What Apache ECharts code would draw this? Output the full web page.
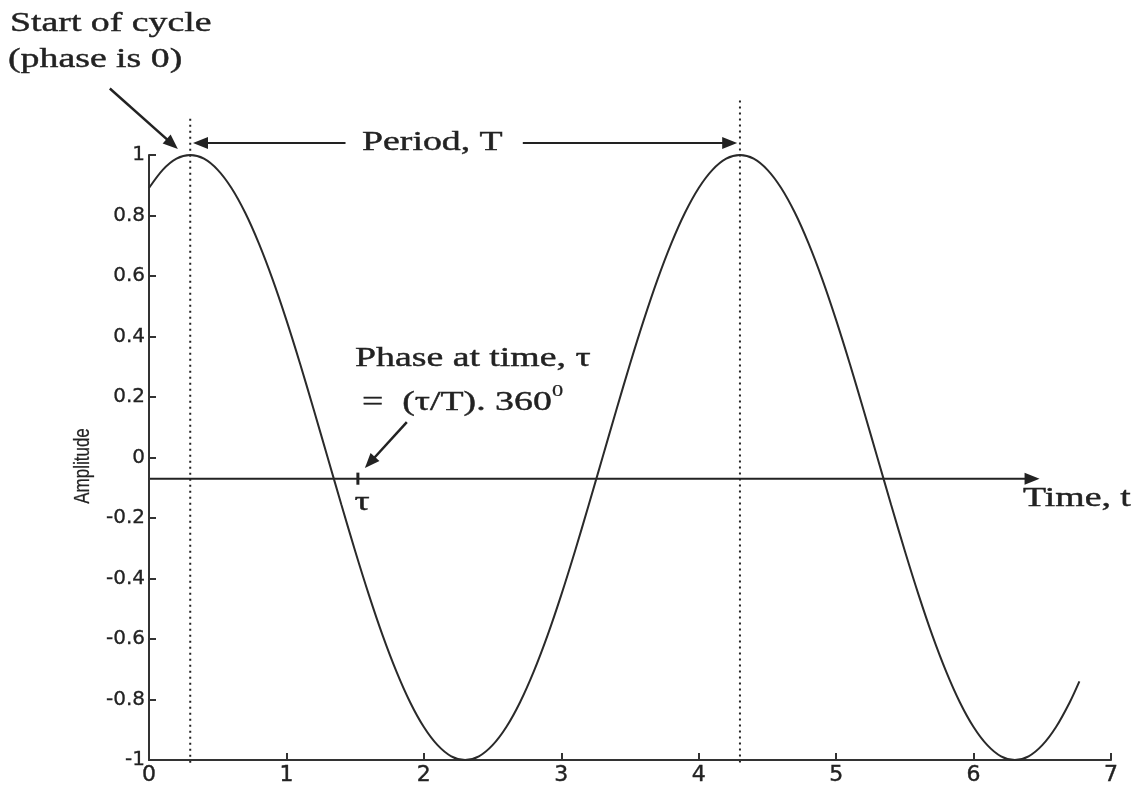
<!DOCTYPE html>
<html>
<head>
<meta charset="utf-8">
<script src="https://cdn.jsdelivr.net/npm/echarts@6/dist/echarts.min.js"></script>
<style>
html,body{margin:0;padding:0;background:#fff}
#chart{width:1138px;height:786px}
</style>
</head>
<body>
<div id="chart"></div>
<script>
// time samples (s) and amplitude
var timeValues = [0,0.1,0.2,0.3,0.4,0.5,0.6,0.7,0.8,0.9,
	1.0,1.1,1.2,1.3,1.4,1.5,1.6,1.7,1.8,1.9,
	2.0,2.1,2.2,2.3,2.4,2.5,2.6,2.7,2.8,2.9,
	3.0,3.1,3.2,3.3,3.4,3.5,3.6,3.7,3.8,3.9,
	4.0,4.1,4.2,4.3,4.4,4.5,4.6,4.7,4.8,4.9,
	5.0,5.1,5.2,5.3,5.4,5.5,5.6,5.7,5.8,5.9,
	6.0,6.1,6.2,6.3,6.4,6.5,6.6,6.7,6.77];
var amplitudeValues = [0.891,0.951,0.988,1,0.988,0.951,0.891,0.809,0.707,0.588,
	0.454,0.309,0.156,0,-0.156,-0.309,-0.454,-0.588,-0.707,-0.809,
	-0.891,-0.951,-0.988,-1,-0.988,-0.951,-0.891,-0.809,-0.707,-0.588,
	-0.454,-0.309,-0.156,0,0.156,0.309,0.454,0.588,0.707,0.809,
	0.891,0.951,0.988,1,0.988,0.951,0.891,0.809,0.707,0.588,
	0.454,0.309,0.156,0,-0.156,-0.309,-0.454,-0.588,-0.707,-0.809,
	-0.891,-0.951,-0.988,-1,-0.988,-0.951,-0.891,-0.809,-0.74];
var periodMarks = [0.3, 4.3];   // dotted lines, start of each cycle
var timeAxisLevel = -0.07;      // level of the "Time, t" arrow
var tauTime = 1.52;             // the tau tick

var ink = '#222';
var serif = 'Liberation Serif';

var curve = [];
for (var i = 0; i < timeValues.length; i++) {
	curve.push([timeValues[i], amplitudeValues[i]]);
}

var chart = echarts.init(document.getElementById('chart'));
chart.setOption({
	animation: false,
	backgroundColor: '#fff',
	grid: {left: 149, right: 27, top: 155, bottom: 26, containLabel: false, outerBoundsMode: 'none'},
	xAxis: {
		type: 'value', min: 0, max: 7, interval: 1,
		splitLine: {show: false},
		axisLine: {show: true, onZero: false, lineStyle: {color: '#333', width: 2}},
		axisTick: {show: true, inside: true, length: 7, lineStyle: {color: '#333', width: 2}},
		axisLabel: {fontFamily: 'DejaVu Sans', fontSize: 22, color: ink, margin: 4,
			textBorderColor: ink, textBorderWidth: 0.4}
	},
	yAxis: {
		type: 'value', min: -1, max: 1, interval: 0.2,
		splitLine: {show: false},
		axisLine: {show: true, onZero: false, lineStyle: {color: '#333', width: 2}},
		axisTick: {show: true, inside: true, length: 7, lineStyle: {color: '#333', width: 2}},
		axisLabel: {
			fontFamily: 'DejaVu Sans', fontSize: 20, color: ink, margin: 4,
			textBorderColor: ink, textBorderWidth: 0.3,
			formatter: function (v) { return String(Math.round(v * 10) / 10); }
		}
	},
	series: [{
		type: 'line',
		data: curve,
		smooth: 0.3,
		symbol: 'none',
		lineStyle: {color: '#2a2a2a', width: 2}
	}]
});

function px(x, y) { return chart.convertToPixel({gridIndex: 0}, [x, y]); }

// straight line, optionally ending in a filled arrowhead
function arrow(from, to, head, width, dash) {
	var a = px(from[0], from[1]), b = px(to[0], to[1]);
	var out = [];
	var dx = b[0] - a[0], dy = b[1] - a[1];
	var len = Math.sqrt(dx * dx + dy * dy);
	var ux = dx / len, uy = dy / len;
	var end = b;
	if (head) {
		var L = 15, W = 6;
		var bx = b[0] - ux * L, by = b[1] - uy * L;
		end = [bx + ux * 2, by + uy * 2];
		out.push({type: 'polygon', silent: true,
			shape: {points: [[b[0], b[1]], [bx - uy * W, by + ux * W], [bx + uy * W, by - ux * W]]},
			style: {fill: ink}});
	}
	out.push({type: 'line', silent: true,
		shape: {x1: a[0], y1: a[1], x2: end[0], y2: end[1]},
		style: {stroke: ink, lineWidth: width || 2, lineDash: dash || null}});
	return out;
}

function label(text, x, y, size, opts) {
	opts = opts || {};
	return {type: 'text', silent: true, x: x, y: y,
		scaleX: opts.scaleX || 1.4, scaleY: opts.scaleY || 1, rotation: opts.rotation || 0,
		style: {text: text, fill: ink, stroke: ink, lineWidth: opts.thick == null ? 0.4 : opts.thick,
			font: size + 'px "' + (opts.family || serif) + '"',
			textAlign: opts.align || 'left', textVerticalAlign: 'middle'}};
}

var g = [];
g = g.concat(arrow([periodMarks[0], 1.12], [periodMarks[0], -1.02], false, 2, [2, 4]));
g = g.concat(arrow([periodMarks[1], 1.18], [periodMarks[1], -1.02], false, 2, [2, 4]));
g = g.concat(arrow([0, timeAxisLevel], [6.48, timeAxisLevel], true, 2));
g = g.concat(arrow([1.43, 1.04], [0.32, 1.04], true, 2));
g = g.concat(arrow([2.72, 1.04], [4.28, 1.04], true, 2));
g = g.concat(arrow([-0.285, 1.22], [0.21, 1.02], true, 2.5));
g = g.concat(arrow([1.876, 0.117], [1.571, -0.035], true, 2.5));
g = g.concat(arrow([tauTime, -0.05], [tauTime, -0.09], false, 3));

g.push(label('Start of cycle', 10, 24, 27));
g.push(label('(phase is 0)', 8, 60, 27));
g.push(label('Period, T', 362, 143, 27));
g.push(label('Phase at time, \u03c4', 355, 359, 27));
g.push(label('=  (\u03c4/T). 360', 362, 403, 27));
g.push(label('0', 552, 392, 16, {thick: 0.2}));
g.push(label('\u03c4', 362, 503, 27, {align: 'center'}));
g.push(label('Time, t', 1023, 499, 27));
g.push(label('Amplitude', 83, 466, 17, {family: 'Liberation Sans', align: 'center', rotation: Math.PI / 2, scaleX: 1, scaleY: 1.27, thick: 0.2}));

chart.setOption({graphic: g});
</script>
</body>
</html>
